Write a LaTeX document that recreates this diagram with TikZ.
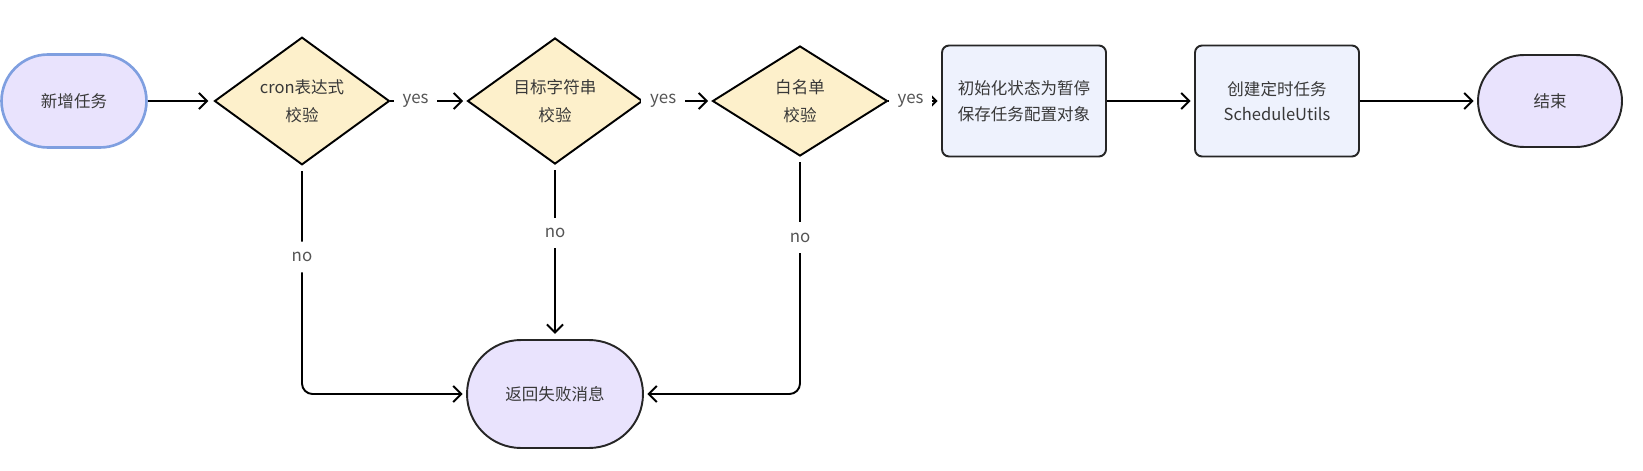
\documentclass[tikz,border=0pt]{standalone}
\usepackage{fontspec}
\setmainfont{Noto Sans CJK SC}
\usetikzlibrary{shapes.geometric,arrows.meta}
\definecolor{termfill}{HTML}{E9E3FD}
\definecolor{termline}{HTML}{7F9FE0}
\definecolor{checkfill}{HTML}{FDF0CB}
\definecolor{boxfill}{HTML}{EEF2FD}
\definecolor{txt}{HTML}{383838}
\definecolor{lbl}{HTML}{555555}
\tikzset{
  terminal/.style={draw=black!85, line width=1.1pt, fill=termfill, text=txt,
    align=center, inner sep=0pt, font=\fontsize{9.4}{15}\selectfont},
  check/.style={diamond, draw=black, line width=1.1pt, fill=checkfill, text=txt,
    align=center, inner sep=0pt, minimum width=3.5cm, minimum height=2.2cm,
    font=\fontsize{9.4}{16}\selectfont},
  stepbox/.style={draw=black!85, line width=1.1pt, fill=boxfill, text=txt,
    rounded corners=4pt, align=center, minimum width=3.28cm, minimum height=2.22cm,
    font=\fontsize{9.4}{14.5}\selectfont},
  flow/.style={line width=1.1pt, -{Straight Barb[length=1.6mm,width=3.2mm]}},
  tag/.style={fill=white, text=lbl, inner xsep=5pt, inner ysep=6pt,
    font=\fontsize{9.6}{12}\selectfont}
}
\begin{document}
\begin{tikzpicture}[x=0.02cm, y=-0.02cm]
  \useasboundingbox (0, 0) rectangle (1643, 470);
  % top row
  \node (start) [terminal, draw=termline, line width=1.5pt, minimum width=2.9cm,
    minimum height=1.86cm, rounded corners=0.93cm] at (74, 101) {新增任务};
  \node (cron) [check] at (302, 101) {cron表达式\\校验};
  \node (target) [check] at (555, 101) {目标字符串\\校验};
  \node (white) [check] at (800, 101) {白名单\\校验};
  \node (save) [stepbox] at (1024, 101) {初始化状态为暂停\\保存任务配置对象};
  \node (create) [stepbox] at (1277, 101) {创建定时任务\\ScheduleUtils};
  \node (finish) [terminal, minimum width=2.88cm, minimum height=1.84cm,
    rounded corners=0.92cm] at (1550, 101) {结束};
  % failure
  \node (fail) [terminal, minimum width=3.52cm, minimum height=2.16cm,
    rounded corners=1.08cm] at (555, 394) {返回失败消息};
  % yes path
  \draw[flow, shorten >=3pt] (start) -- (cron);
  \draw[flow, shorten >=2pt] (cron) -- node [tag, pos=.33] {yes} (target);
  \draw[flow, shorten >=2pt] (target) -- node [tag, pos=.29] {yes} (white);
  \draw[flow, shorten >=2pt] (white) -- node [tag, pos=.42] {yes} (save);
  \draw[flow, shorten >=2pt] (save) -- (create);
  \draw[flow, shorten >=2pt] (create) -- (finish);
  % no path
  \draw[flow, rounded corners=6pt, shorten <=3pt, shorten >=2pt]
    (cron.south) |- node [tag, pos=.2] {no} (fail.west);
  \draw[flow, shorten <=3pt, shorten >=3pt]
    (target.south) -- node [tag, pos=.39] {no} (fail.north);
  \draw[flow, rounded corners=6pt, shorten <=3pt, shorten >=2pt]
    (white.south) |- node [tag, pos=.17] {no} (fail.east);
\end{tikzpicture}
\end{document}
